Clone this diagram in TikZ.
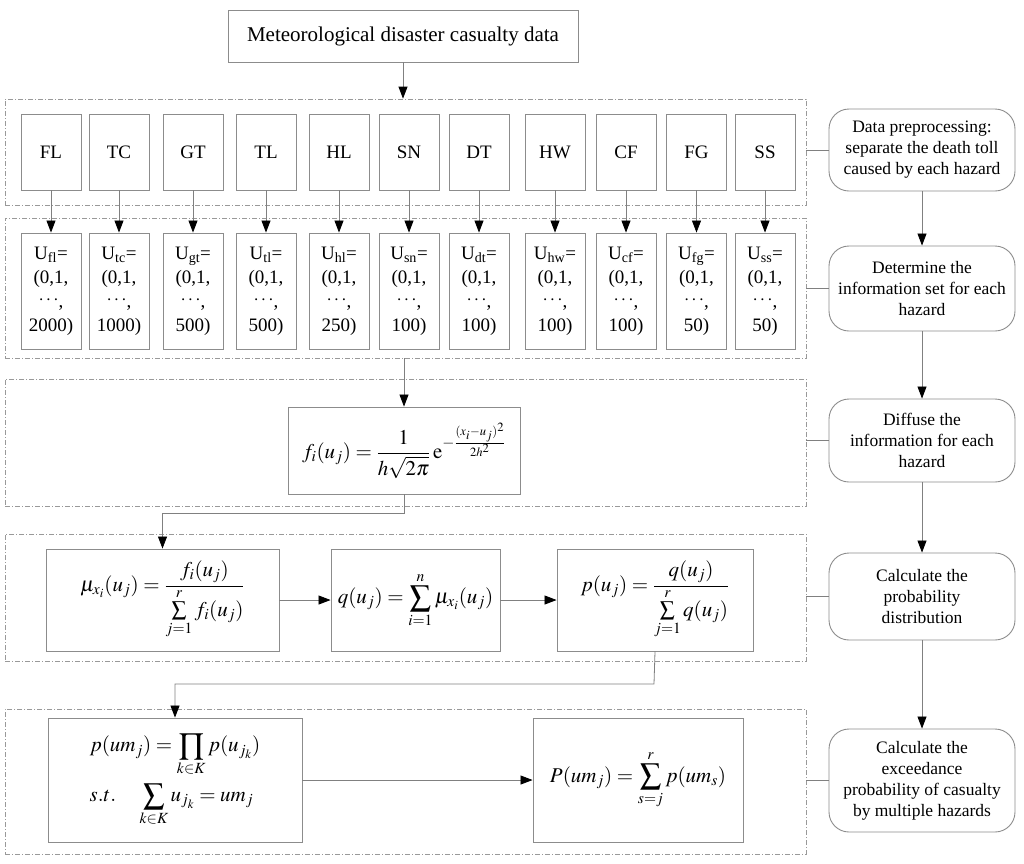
\documentclass[tikz,border=0pt]{standalone}
\usepackage{mathptmx}
\usepackage{fontspec}
\setmainfont{Liberation Serif}
\usetikzlibrary{arrows.meta,positioning}
\begin{document}
\begin{tikzpicture}[x=1pt,y=-1pt,
  box/.style={draw=black!45,line width=0.9pt,fill=white,inner sep=2pt,align=center,font=\fontsize{19}{24}\selectfont},
  rbox/.style={draw=black!45,line width=0.9pt,rounded corners=20pt,align=center,minimum width=186pt,inner sep=3pt,font=\fontsize{17.5}{21}\selectfont},
  grp/.style={draw=black!40,line width=0.8pt,dash pattern=on 5pt off 2pt on 1pt off 2pt,inner sep=0pt},
  conn/.style={draw=black!50,line width=0.8pt},
  arr/.style={conn,-{Triangle[width=9pt,length=12pt,fill=black,color=black]}},
  mathf/.style={font=\fontsize{21}{25}\selectfont}
]
\useasboundingbox (0,0) rectangle (1024,863);
% dashed groups
\node[grp,minimum width=801pt,minimum height=106pt] (d1) at (405.5,152) {};
\node[grp,minimum width=801pt,minimum height=140pt] (d2) at (405.5,288) {};
\node[grp,minimum width=801pt,minimum height=127pt] (d3) at (405.5,442.5) {};
\node[grp,minimum width=801pt,minimum height=127pt] (d4) at (405.5,597.5) {};
\node[grp,minimum width=801pt,minimum height=145pt] (d5) at (405.5,781.5) {};
% top
\node[box,minimum width=350pt,minimum height=52pt,font=\fontsize{21}{25}\selectfont] (top) at (403,36) {Meteorological disaster casualty data};
\draw[arr] (top.south) -- (top.south |- d1.north);
% hazards
\foreach \n/\x/\s/\v in {FL/51/fl/2000,TC/119/tc/1000,GT/193/gt/500,TL/266/tl/500,HL/339/hl/250,SN/409/sn/100,DT/479/dt/100,HW/555/hw/100,CF/626/cf/100,FG/696.5/fg/50,SS/765/ss/50}{
  \node[box,minimum width=60pt,minimum height=76pt] (h\n) at (\x,152) {\n};
  \node[box,minimum width=60pt,minimum height=116pt] (u\n) at (\x,291) {U\textsubscript{\s}=\\(0,1,\\\raisebox{3pt}{$\cdots$},\\\v)};
  \draw[arr] (h\n.south) -- (u\n.north);
}
% f box
\node[box,mathf,minimum width=232pt,minimum height=87pt] (f) at (404,450.5) {$\displaystyle f_i(u_j)=\frac{1}{h\sqrt{2\pi}}\,\mathrm{e}^{-\frac{(x_i-u_j)^2}{2h^2}}$};
\draw[arr] (f.north |- d2.south) -- (f.north);
% row 4
\node[box,mathf,minimum width=233pt,minimum height=102pt] (mu) at (162.5,600) {$\displaystyle \mu_{x_i}(u_j)=\frac{f_i(u_j)}{\sum\limits_{j=1}^{r} f_i(u_j)}$};
\node[box,mathf,minimum width=169pt,minimum height=102pt] (q) at (415.5,600) {$\displaystyle q(u_j)=\sum_{i=1}^{n}\mu_{x_i}(u_j)$};
\node[box,mathf,minimum width=196pt,minimum height=102pt] (p) at (655,600) {$\displaystyle p(u_j)=\frac{q(u_j)}{\sum\limits_{j=1}^{r} q(u_j)}$};
\coordinate (c1) at (404,513);
\draw[arr] (f.south) -- (c1) -| (mu.north);
\draw[arr] (mu.east) -- (q.west);
\draw[arr] (q.east) -- (p.west);
% row 5
\node[box,mathf,minimum width=254pt,minimum height=124pt,align=left] (A) at (175,780) {$\displaystyle p(um_j)=\prod_{k\in K}p(u_{j_k})$\\[6pt] $\displaystyle s.t.\quad \sum_{k\in K}u_{j_k}=um_j$};
\node[box,mathf,minimum width=210pt,minimum height=124pt] (B) at (638,780) {$\displaystyle P(um_j)=\sum_{s=j}^{r}p(um_s)$};
\coordinate (c2) at (654,684);
\draw[arr] (p.south) -- (c2) -| (A.north);
\draw[arr] (A.east) -- (B.west);
% right column
\node[rbox,minimum height=82pt] (r1) at (922,150) {Data preprocessing:\\separate the death toll\\caused by each hazard};
\node[rbox,minimum height=85pt] (r2) at (922,288.5) {Determine the\\information set for each\\hazard};
\node[rbox,minimum height=83pt] (r3) at (922,440.5) {Diffuse the\\information for each\\hazard};
\node[rbox,minimum height=87pt] (r4) at (922,596.5) {Calculate the\\probability\\distribution};
\node[rbox,minimum height=103pt] (r5) at (922,780.5) {Calculate the\\exceedance\\probability of casualty\\by multiple hazards};
\draw[arr] (r1) -- (r2);
\draw[arr] (r2) -- (r3);
\draw[arr] (r3) -- (r4);
\draw[arr] (r4) -- (r5);
\foreach \i in {1,...,5}{\draw[conn] (r\i.west) -- (d\i.east |- r\i.west);}
\end{tikzpicture}
\end{document}
